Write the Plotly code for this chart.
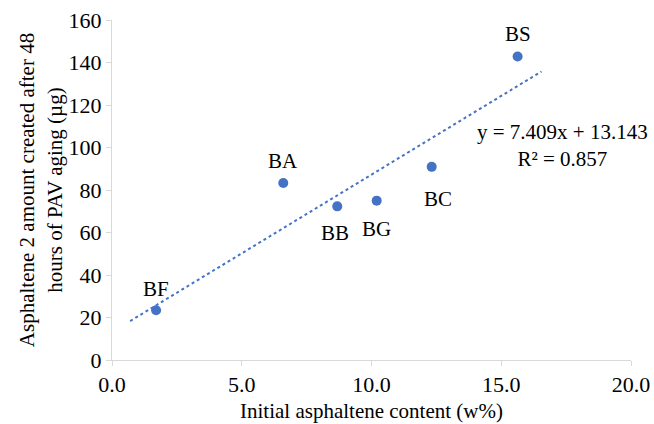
import plotly.graph_objects as go

names = ["BF", "BA", "BB", "BG", "BC", "BS"]
asph_initial = [1.70, 6.60, 8.68, 10.20, 12.32, 15.63]
asph2_created = [23.4, 83.3, 72.3, 75.0, 90.9, 142.8]
slope, intercept, r2 = 7.409, 13.143, 0.857
trend_x = [0.7, 16.55]

label_shift = {"BF": (0, 21), "BA": (0, 22), "BB": (-2, -27), "BG": (0, -28),
               "BC": (6, -32), "BS": (0, 23)}

blue = "#4472C4"
font = "Times New Roman, Liberation Serif, serif"
fs = 21

fig = go.Figure()
fig.add_trace(go.Scatter(
    x=trend_x, y=[slope * v + intercept for v in trend_x], mode="lines",
    line=dict(color=blue, width=2, dash="dot"), hoverinfo="skip", showlegend=False))
fig.add_trace(go.Scatter(
    x=asph_initial, y=asph2_created, mode="markers",
    marker=dict(color=blue, size=10), showlegend=False))

for n, xv, yv in zip(names, asph_initial, asph2_created):
    dx, dy = label_shift[n]
    fig.add_annotation(x=xv, y=yv, text=n, showarrow=False, xshift=dx, yshift=dy,
                       font=dict(family=font, size=fs, color="#000"))

fig.add_annotation(x=0.868, y=0.63, xref="paper", yref="paper", xanchor="center",
                   yanchor="middle",
                   text=f"y = {slope}x + {intercept}<br>R² = {r2}", showarrow=False,
                   font=dict(family=font, size=fs, color="#000"), align="center")

axis_common = dict(showgrid=False, zeroline=False, showline=True, linecolor="#d9d9d9",
                   linewidth=1, ticks="outside", tickcolor="#d9d9d9", ticklen=5,
                   automargin=False,
                   tickfont=dict(family=font, size=22, color="#000"))
fig.update_xaxes(range=[0, 20], dtick=5, tickformat=".1f",
                 title=dict(text="Initial asphaltene content (w%)",
                            font=dict(family=font, size=fs, color="#000"), standoff=6),
                 **axis_common)
fig.update_yaxes(range=[0, 160], dtick=20,
                 title=dict(text="Asphaltene 2 amount created after 48<br>hours of PAV aging (µg)",
                            font=dict(family=font, size=fs, color="#000"), standoff=0),
                 **axis_common)
fig.update_layout(width=654, height=424, margin=dict(l=112, r=23, t=20, b=64),
                  plot_bgcolor="white", paper_bgcolor="white",
                  font=dict(family=font))
fig.write_html("out.html")
